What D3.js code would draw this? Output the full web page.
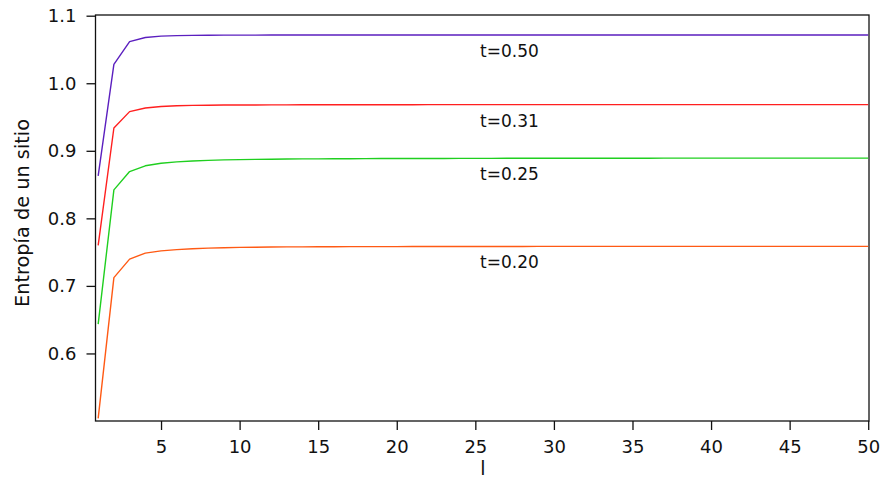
<!DOCTYPE html>
<html>
<head>
<meta charset="utf-8">
<script src="https://cdn.jsdelivr.net/npm/d3@7"></script>
<style>
  html, body { margin: 0; padding: 0; background: #fff; }
  svg text { font-family: "DejaVu Sans", "Liberation Sans", sans-serif; fill: #111; }
</style>
</head>
<body>
<svg id="chart" width="880" height="480"></svg>
<script>
// System size l and site entropy for each hopping value t
const lValues = d3.range(1, 51);

const labels = ["t=0.50", "t=0.31", "t=0.25", "t=0.20"];
const colors = ["#5b1fbf", "#ff1f1f", "#1fcf1f", "#ff5a14"];

const entropyT050 = [
  0.863, 1.028, 1.0617, 1.0677, 1.0697, 1.0705, 1.0709, 1.0711, 1.0712, 1.0713,
  1.0713, 1.0714, 1.0714, 1.0714, 1.0714, 1.0714, 1.0714, 1.0715, 1.0715, 1.0715,
  1.0715, 1.0715, 1.0715, 1.0715, 1.0715, 1.0715, 1.0715, 1.0715, 1.0715, 1.0715,
  1.0715, 1.0715, 1.0715, 1.0715, 1.0715, 1.0715, 1.0715, 1.0715, 1.0715, 1.0715,
  1.0715, 1.0715, 1.0715, 1.0715, 1.0715, 1.0715, 1.0715, 1.0715, 1.0715, 1.0715
];
const entropyT031 = [
  0.760, 0.9338, 0.958, 0.9634, 0.9655, 0.9666, 0.9672, 0.9675, 0.9677, 0.9678,
  0.9679, 0.9680, 0.9680, 0.9681, 0.9681, 0.9681, 0.9682, 0.9682, 0.9682, 0.9682,
  0.9682, 0.9683, 0.9683, 0.9683, 0.9683, 0.9683, 0.9683, 0.9683, 0.9683, 0.9683,
  0.9683, 0.9683, 0.9683, 0.9683, 0.9683, 0.9683, 0.9683, 0.9683, 0.9683, 0.9683,
  0.9683, 0.9683, 0.9683, 0.9683, 0.9683, 0.9683, 0.9683, 0.9683, 0.9683, 0.9683
];
const entropyT025 = [
  0.6433, 0.8422, 0.8693, 0.8778, 0.8815, 0.8836, 0.8850, 0.8859, 0.8865, 0.8869,
  0.8873, 0.8876, 0.8878, 0.8880, 0.8881, 0.8882, 0.8883, 0.8884, 0.8885, 0.8886,
  0.8886, 0.8887, 0.8887, 0.8888, 0.8888, 0.8888, 0.8889, 0.8889, 0.8889, 0.8889,
  0.8890, 0.8890, 0.8890, 0.8890, 0.8890, 0.8890, 0.8891, 0.8891, 0.8891, 0.8891,
  0.8891, 0.8891, 0.8891, 0.8891, 0.8892, 0.8892, 0.8892, 0.8892, 0.8892, 0.8892
];
const entropyT020 = [
  0.504, 0.7122, 0.7397, 0.7486, 0.7518, 0.7537, 0.7550, 0.7559, 0.7565, 0.7570,
  0.7573, 0.7575, 0.7577, 0.7578, 0.7579, 0.7580, 0.7581, 0.7581, 0.7582, 0.7582,
  0.7583, 0.7583, 0.7583, 0.7584, 0.7584, 0.7584, 0.7584, 0.7584, 0.7585, 0.7585,
  0.7585, 0.7585, 0.7585, 0.7585, 0.7585, 0.7585, 0.7585, 0.7585, 0.7585, 0.7585,
  0.7585, 0.7585, 0.7585, 0.7585, 0.7585, 0.7585, 0.7585, 0.7585, 0.7585, 0.7585
];
const series = [entropyT050, entropyT031, entropyT025, entropyT020];

const xTicks = [5, 10, 15, 20, 25, 30, 35, 40, 45, 50];
const yTicks = [0.6, 0.7, 0.8, 0.9, 1.0, 1.1];
const xLabelPosition = 25.3;

// Plot frame edges
const plotLeft = 95.5, plotRight = 869, plotTop = 15, plotBottom = 421;

const svg = d3.select("#chart");

const x = d3.scaleLinear().domain([0.83, 50.05]).range([plotLeft, plotRight]);
const y = d3.scaleLinear().domain([0.5, 1.1]).range([plotBottom, 15.7]);

// Frame
svg.append("rect")
  .attr("x", plotLeft).attr("y", plotTop)
  .attr("width", plotRight - plotLeft).attr("height", plotBottom - plotTop)
  .attr("fill", "none").attr("stroke", "#111").attr("stroke-width", 1.3);

// Axes
const xAxis = svg.append("g")
  .attr("transform", `translate(0,${plotBottom})`)
  .call(d3.axisBottom(x).tickValues(xTicks).tickSize(9).tickPadding(10).tickFormat(d3.format("d")));
const yAxis = svg.append("g")
  .attr("transform", `translate(${plotLeft},0)`)
  .call(d3.axisLeft(y).tickValues(yTicks).tickSize(9).tickPadding(10).tickFormat(d3.format(".1f")));

[xAxis, yAxis].forEach(g => {
  g.select(".domain").remove();
  g.selectAll(".tick line").attr("stroke", "#111").attr("stroke-width", 1.3);
  g.selectAll(".tick text").attr("font-size", 18).style("fill", "#111");
});

// Curves
const line = d3.line()
  .x((d, i) => x(lValues[i]))
  .y(d => y(d));

series.forEach((s, k) => {
  svg.append("path")
    .datum(s)
    .attr("d", line)
    .attr("fill", "none")
    .attr("stroke", colors[k])
    .attr("stroke-width", 1.4)
    .attr("stroke-linejoin", "round");

  svg.append("text")
    .attr("x", x(xLabelPosition))
    .attr("y", y(s[s.length - 1]) + 22)
    .attr("font-size", 17)
    .text(labels[k]);
});

// Axis titles
svg.append("text")
  .attr("transform", "translate(29,213) rotate(-90)")
  .attr("text-anchor", "middle")
  .attr("font-size", 20)
  .attr("textLength", 188)
  .attr("lengthAdjust", "spacingAndGlyphs")
  .text("Entropía de un sitio");

svg.append("text")
  .attr("x", 483)
  .attr("y", 475)
  .attr("text-anchor", "middle")
  .attr("font-size", 19)
  .text("l");
</script>
</body>
</html>
